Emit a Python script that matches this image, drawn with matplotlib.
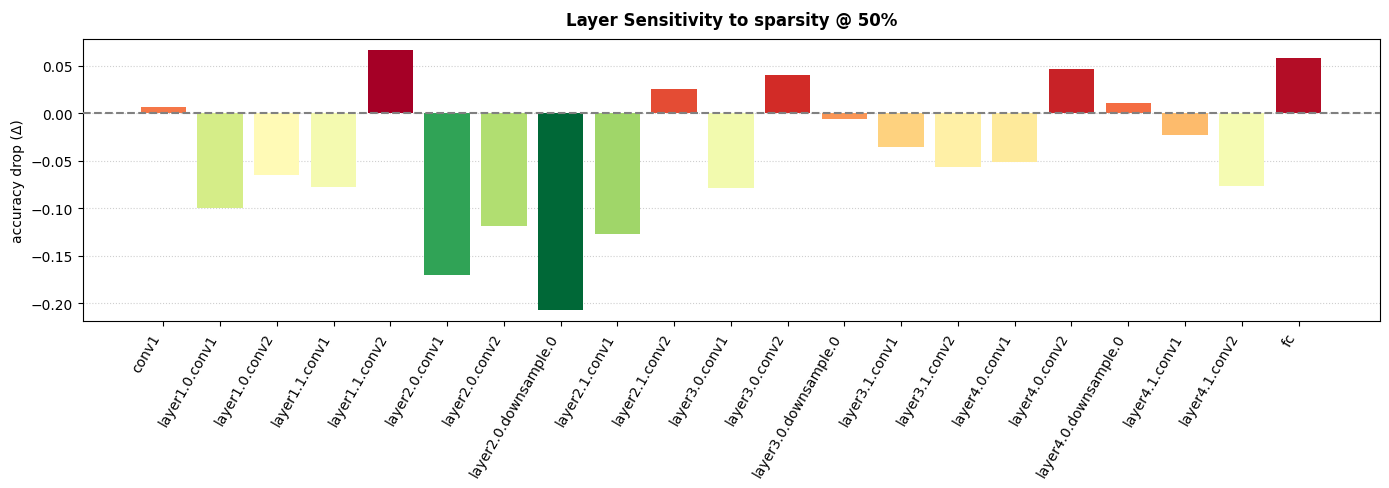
import matplotlib
matplotlib.use("Agg")
import matplotlib.pyplot as plt
import numpy as np

# warstwy i spadek dokladnosci przy 50% sparsity
layers = ["conv1", "layer1.0.conv1", "layer1.0.conv2", "layer1.1.conv1", "layer1.1.conv2",
          "layer2.0.conv1", "layer2.0.conv2", "layer2.0.downsample.0", "layer2.1.conv1",
          "layer2.1.conv2", "layer3.0.conv1", "layer3.0.conv2", "layer3.0.downsample.0",
          "layer3.1.conv1", "layer3.1.conv2", "layer4.0.conv1", "layer4.0.conv2",
          "layer4.0.downsample.0", "layer4.1.conv1", "layer4.1.conv2", "fc"]
drops = [0.0067, -0.0993, -0.0652, -0.078, 0.0663,
         -0.1706, -0.1184, -0.2067, -0.127,
         0.0259, -0.079, 0.0408, -0.0057,
         -0.0355, -0.0567, -0.0514, 0.0461,
         0.011, -0.0227, -0.077, 0.0578]

vals = np.array(drops)
norm = plt.Normalize(vals.min(), vals.max())
colors = plt.cm.RdYlGn_r(norm(vals))

fig, ax = plt.subplots(figsize=(13.89, 4.89), dpi=100)
x = np.arange(len(layers))
ax.bar(x, vals, width=0.8, color=colors, zorder=2)
ax.axhline(0, color="gray", linestyle="--", linewidth=1.5, zorder=3)

ax.set_xticks(x)
ax.set_xticklabels(layers, rotation=60, ha="right")
ax.set_xlim(-1.42, 21.44)
ax.set_ylim(-0.219, 0.0779)
ax.set_ylabel("accuracy drop (Δ)")
ax.set_title("Layer Sensitivity to sparsity @ 50%", fontweight="bold", fontsize=12, pad=10)
ax.grid(axis="y", linestyle=":", alpha=0.6, zorder=0)

fig.subplots_adjust(left=0.0595, right=0.9937, top=0.9176, bottom=0.3409)
fig.savefig("out.png")
